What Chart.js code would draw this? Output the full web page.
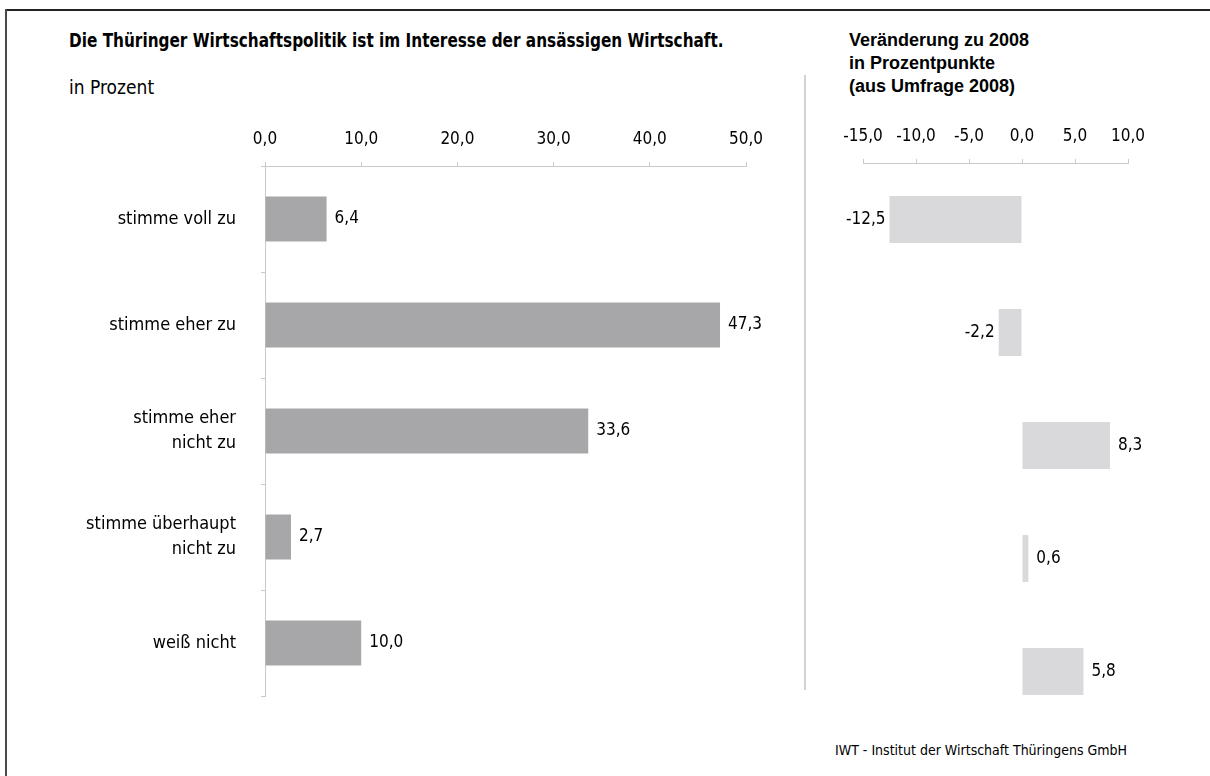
<!DOCTYPE html>
<html>
<head>
<meta charset="utf-8">
<script src="https://cdn.jsdelivr.net/npm/chart.js@4.4.1/dist/chart.umd.min.js"></script>
<style>
  html, body { margin: 0; padding: 0; background: #fff; }
  #wrap { position: relative; width: 1210px; height: 776px; overflow: hidden; background: #fff; }
  .frame-top { position: absolute; left: 5px; top: 9px; width: 1205px; height: 2px; background: #222; }
  .frame-left { position: absolute; left: 5px; top: 9px; width: 2px; height: 767px; background: #4a4a4a; }
  .sep { position: absolute; left: 804px; top: 75px; width: 2px; height: 615px; background: #d2d2d2; }
  .txt { position: absolute; white-space: nowrap; color: #000; transform-origin: 0 50%; }
  .cond { font-family: "Liberation Sans Narrow", "DejaVu Sans Condensed", "Roboto Condensed", sans-serif; }
  .plain { font-family: "Liberation Sans", Arial, sans-serif; }
  canvas { position: absolute; top: 0; }
</style>
</head>
<body>
<div id="wrap">
  <div class="frame-top"></div>
  <div class="frame-left"></div>
  <div class="sep"></div>

  <div class="txt cond" style="left:69px; top:28px; font-size:20px; line-height:24px; font-weight:bold; transform:scaleX(0.85);">Die Thüringer Wirtschaftspolitik ist im Interesse der ansässigen Wirtschaft.</div>
  <div class="txt cond" style="left:69px; top:75px; font-size:19px; line-height:24px;">in Prozent</div>

  <div class="txt plain" style="left:849px; top:29px; font-size:18px; line-height:23px; font-weight:bold;">Veränderung zu 2008<br>in Prozentpunkte<br>(aus Umfrage 2008)</div>

  <div class="txt cond" style="left:835px; top:741px; font-size:14px; line-height:18px;">IWT - Institut der Wirtschaft Thüringens GmbH</div>

  <div style="position:absolute; left:0; top:0; width:800px; height:776px;"><canvas id="left"></canvas></div>
  <div style="position:absolute; left:800px; top:0; width:410px; height:776px;"><canvas id="right"></canvas></div>
</div>

<script>
// Answer categories (multi-line labels as arrays)
const categories = [
  'stimme voll zu',
  'stimme eher zu',
  ['stimme eher', 'nicht zu'],
  ['stimme überhaupt', 'nicht zu'],
  'weiß nicht'
];

// Share of answers, in percent
const shares = [6.4, 47.3, 33.6, 2.7, 10.0];

// Change versus the 2008 survey, in percentage points
const changes = [-12.5, -2.2, 8.3, 0.6, 5.8];

// Axis ranges
const shareAxis = { min: 0, max: 50, step: 10 };
const changeAxis = { min: -15, max: 10, step: 5 };

const COND = '"Liberation Sans Narrow", "DejaVu Sans Condensed", "Roboto Condensed", sans-serif';
const AXIS_GREY = '#c9c9c9';
const TEXT = '#000';

const fmt = v => Number(v).toFixed(1).replace('.', ',');

// Draws the value next to the end of every bar
const valueLabels = {
  id: 'valueLabels',
  afterDatasetsDraw(chart) {
    const ctx = chart.ctx;
    const meta = chart.getDatasetMeta(0);
    const data = chart.data.datasets[0].data;
    ctx.save();
    ctx.font = '17px ' + COND;
    ctx.fillStyle = TEXT;
    ctx.textBaseline = 'middle';
    meta.data.forEach((bar, i) => {
      const v = data[i];
      if (v < 0) {
        ctx.textAlign = 'right';
        ctx.fillText(fmt(v), bar.x - 4, bar.y);
      } else {
        ctx.textAlign = 'left';
        ctx.fillText(fmt(v), bar.x + 8, bar.y);
      }
    });
    ctx.restore();
  }
};

Chart.defaults.animation = false;
Chart.defaults.color = TEXT;

// Left: distribution of answers
new Chart(document.getElementById('left'), {
  type: 'bar',
  data: {
    labels: categories,
    datasets: [{
      data: shares,
      backgroundColor: '#a7a7a9',
      borderWidth: 0,
      barPercentage: 0.425,
      categoryPercentage: 1.0
    }]
  },
  options: {
    indexAxis: 'y',
    responsive: true,
    maintainAspectRatio: false,
    layout: { padding: { top: 0, right: 54, bottom: 80, left: 0 } },
    plugins: { legend: { display: false }, tooltip: { enabled: false } },
    scales: {
      x: {
        position: 'top',
        min: shareAxis.min,
        max: shareAxis.max,
        ticks: {
          stepSize: shareAxis.step,
          callback: v => fmt(v),
          font: { family: COND, size: 17 },
          color: TEXT,
          padding: 12,
          maxRotation: 0
        },
        grid: { drawOnChartArea: false, tickLength: 4, color: AXIS_GREY, lineWidth: 1 },
        border: { color: AXIS_GREY, width: 1 },
        afterFit: s => { s.height = 166; }
      },
      y: {
        ticks: {
          font: { family: COND, size: 18, lineHeight: 1.4 },
          color: TEXT,
          padding: 25
        },
        grid: { drawOnChartArea: false, tickLength: 4, color: AXIS_GREY, lineWidth: 1, offset: true },
        border: { color: AXIS_GREY, width: 1 },
        afterFit: s => { s.width = 265; }
      }
    }
  },
  plugins: [valueLabels]
});

// Right: change against 2008
new Chart(document.getElementById('right'), {
  type: 'bar',
  data: {
    labels: categories,
    datasets: [{
      data: changes,
      backgroundColor: '#d9d9db',
      borderWidth: 0,
      barPercentage: 0.415,
      categoryPercentage: 1.0
    }]
  },
  options: {
    indexAxis: 'y',
    responsive: true,
    maintainAspectRatio: false,
    layout: { padding: { top: 0, right: 82, bottom: 48, left: 63 } },
    plugins: { legend: { display: false }, tooltip: { enabled: false } },
    scales: {
      x: {
        position: 'top',
        min: changeAxis.min,
        max: changeAxis.max,
        ticks: {
          stepSize: changeAxis.step,
          callback: v => fmt(v),
          font: { family: COND, size: 17 },
          color: TEXT,
          padding: 12,
          maxRotation: 0
        },
        grid: { drawOnChartArea: false, tickLength: 4, color: AXIS_GREY, lineWidth: 1 },
        border: { color: AXIS_GREY, width: 1 },
        afterFit: s => { s.height = 163; }
      },
      y: { display: false }
    }
  },
  plugins: [valueLabels]
});
</script>
</body>
</html>
